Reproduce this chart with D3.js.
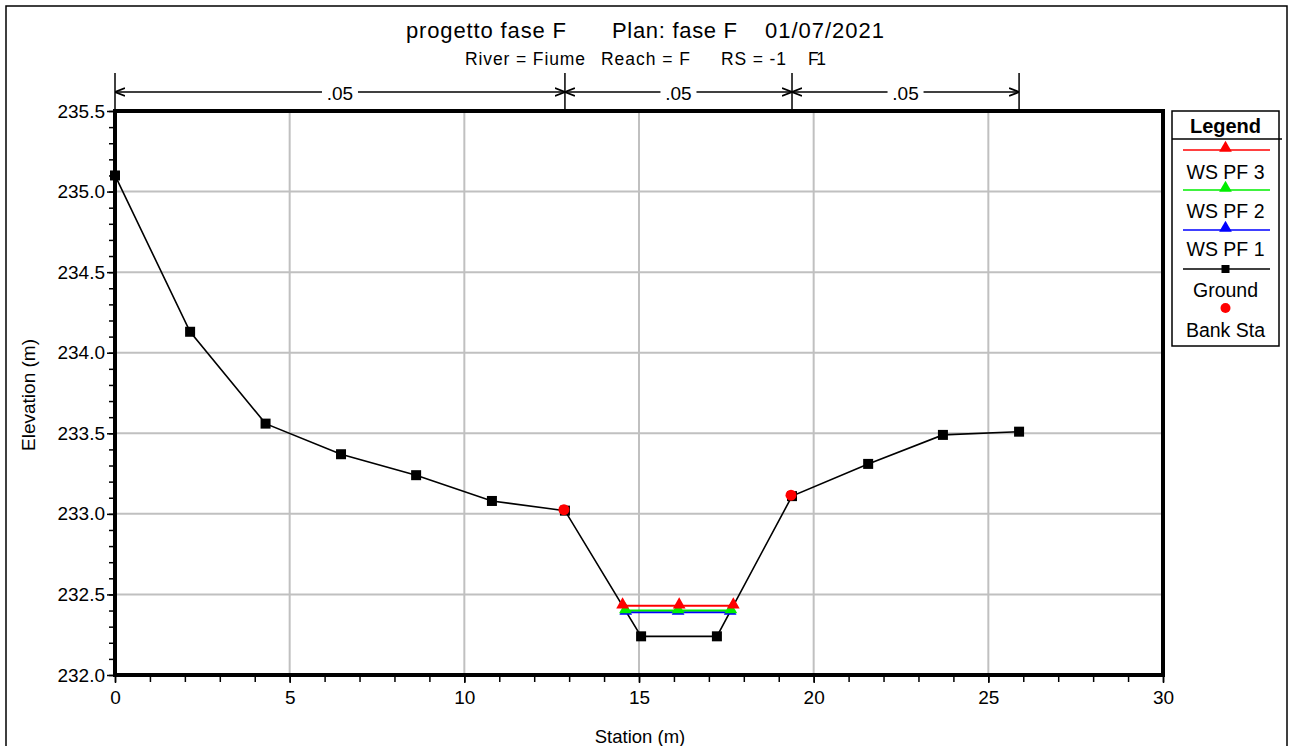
<!DOCTYPE html>
<html><head><meta charset="utf-8">
<script src="https://cdn.jsdelivr.net/npm/d3@7"></script>
<style>
body{margin:0;background:#fff;}
svg text{font-family:"Liberation Sans",Arial,sans-serif;fill:#000;}
</style></head>
<body>
<svg id="c" width="1293" height="746"></svg>
<script>
// ---- data ----
const titleParts = ["progetto fase F", "Plan: fase F", "01/07/2021"];
const subtitleParts = ["River = Fiume", "Reach = F", "RS = -1", "F1"];
const groundSta  = [0, 2.15, 4.31, 6.47, 8.62, 10.79, 12.88, 15.06, 17.23, 19.38, 21.56, 23.70, 25.88];
const groundElev = [235.10, 234.13, 233.56, 233.37, 233.24, 233.08, 233.02, 232.24, 232.24, 233.11, 233.31, 233.49, 233.51];
const bankSta  = [12.88, 19.38];
const bankElev = [233.02, 233.11];
const wsPF3Sta = [14.53, 16.15, 17.70];
const wsPF3Elev = [232.43, 232.43, 232.43];
const wsPF2Sta = [14.61, 16.12, 17.63];
const wsPF2Elev = [232.40, 232.40, 232.40];
const wsPF1Sta = [14.62, 16.12, 17.61];
const wsPF1Elev = [232.39, 232.39, 232.39];
const nBounds = [0, 12.88, 19.38, 25.88];
const nValues = [".05", ".05", ".05"];
const xMajorTicks = [0, 5, 10, 15, 20, 25, 30];
const yMajorTicks = [232.0, 232.5, 233.0, 233.5, 234.0, 234.5, 235.0, 235.5];
const legendLabels = ["WS PF 3", "WS PF 2", "WS PF 1", "Ground", "Bank Sta"];

// ---- layout ----
const svg = d3.select("#c");
const L = 115, R = 1163, T = 111, B = 675;
const x = d3.scaleLinear().domain([0, 30]).range([L, R]);
const y = d3.scaleLinear().domain([232, 235.5]).range([B, T]);

// outer border
svg.append("rect").attr("x", 6).attr("y", 6).attr("width", 1281).attr("height", 760)
  .attr("fill", "none").attr("stroke", "#000").attr("stroke-width", 1.5);

// titles
const titleX = [406, 612, 765];
const titleW = [160, 125, 119];
svg.selectAll(".tt").data(titleParts).join("text")
  .attr("x", (d, i) => titleX[i]).attr("y", 38)
  .attr("textLength", (d, i) => titleW[i]).attr("lengthAdjust", "spacing")
  .style("font-size", "22px").text(d => d);
const subX = [465, 601, 721, 808];
const subW = [120, 89, 65, 18];
svg.selectAll(".st").data(subtitleParts).join("text")
  .attr("x", (d, i) => subX[i]).attr("y", 65)
  .attr("textLength", (d, i) => subW[i]).attr("lengthAdjust", "spacing")
  .style("font-size", "17.5px").text(d => d);

// grid
const g = svg.append("g");
g.selectAll(".gx").data(xMajorTicks.slice(1, -1)).join("line")
  .attr("x1", d => x(d)).attr("x2", d => x(d)).attr("y1", T).attr("y2", B)
  .attr("stroke", "#c0c0c0").attr("stroke-width", 2);
g.selectAll(".gy").data(yMajorTicks.slice(1, -1)).join("line")
  .attr("y1", d => y(d)).attr("y2", d => y(d)).attr("x1", L).attr("x2", R)
  .attr("stroke", "#c0c0c0").attr("stroke-width", 2);

// axes
const xMinor = d3.range(0, 31, 1);
const yMinor = d3.range(0, 36, 1).map(i => 232 + i * 0.1);
const xAxis = d3.axisBottom(x).tickValues(xMajorTicks).tickSize(7).tickPadding(8).tickFormat(d3.format("d"));
const xAxisMinor = d3.axisBottom(x).tickValues(xMinor).tickSize(6).tickFormat("");
const yAxis = d3.axisLeft(y).tickValues(yMajorTicks).tickSize(7).tickPadding(2).tickFormat(d3.format(".1f"));
const yAxisMinor = d3.axisLeft(y).tickValues(yMinor).tickSize(5).tickFormat("");

function styleAxis(sel) {
  sel.select(".domain").remove();
  sel.selectAll("line").attr("stroke", "#000").attr("stroke-width", 1.5);
  sel.selectAll("text").style("font-size", "19px").style("font-family", "Liberation Sans, Arial, sans-serif");
}
svg.append("g").attr("transform", `translate(0,${B + 1})`).call(xAxisMinor).call(styleAxis);
svg.append("g").attr("transform", `translate(0,${B + 1})`).call(xAxis).call(styleAxis);
svg.append("g").attr("transform", `translate(${L - 1},0)`).call(yAxisMinor).call(styleAxis);
svg.append("g").attr("transform", `translate(${L - 1},0)`).call(yAxis).call(styleAxis);

// axis titles
svg.append("text").attr("x", 640).attr("y", 743).attr("text-anchor", "middle")
  .style("font-size", "18.5px").text("Station (m)");
svg.append("text").attr("transform", "translate(35,395) rotate(-90)").attr("text-anchor", "middle")
  .style("font-size", "19px").text("Elevation (m)");

// Manning's n bar
const nY = 92;
const defs = svg.append("defs");
defs.append("marker").attr("id", "arr").attr("viewBox", "0 0 10 10").attr("refX", 10).attr("refY", 5)
  .attr("markerWidth", 10).attr("markerHeight", 10).attr("markerUnits", "userSpaceOnUse").attr("orient", "auto-start-reverse")
  .append("path").attr("d", "M0,1 L10,5 L0,9").attr("fill", "none").attr("stroke", "#000").attr("stroke-width", 1.8);
svg.selectAll(".nv").data(nBounds).join("line")
  .attr("x1", d => x(d)).attr("x2", d => x(d)).attr("y1", 73).attr("y2", T)
  .attr("stroke", "#000").attr("stroke-width", 1.5);
const segs = nValues.map((v, i) => ({ a: nBounds[i], b: nBounds[i + 1], v }));
svg.selectAll(".ns").data(segs).join("line")
  .attr("x1", d => x(d.a)).attr("x2", d => x(d.b)).attr("y1", nY).attr("y2", nY)
  .attr("stroke", "#000").attr("stroke-width", 1.3)
  .attr("marker-start", "url(#arr)").attr("marker-end", "url(#arr)");
const nl = svg.selectAll(".nl").data(segs).join("g");
nl.append("rect").attr("x", d => x((d.a + d.b) / 2) - 18).attr("y", nY - 9).attr("width", 36).attr("height", 18).attr("fill", "#fff");
nl.append("text").attr("x", d => x((d.a + d.b) / 2)).attr("y", nY + 8).attr("text-anchor", "middle")
  .style("font-size", "19px").text(d => d.v);

// ground line
const ground = groundSta.map((s, i) => [s, groundElev[i]]);
const line = d3.line().x(d => x(d[0])).y(d => y(d[1]));
svg.append("path").attr("d", line(ground)).attr("fill", "none").attr("stroke", "#000").attr("stroke-width", 1.6);

// water surfaces
const ws = [
  { sta: wsPF1Sta, elev: wsPF1Elev, color: "#0000ff" },
  { sta: wsPF2Sta, elev: wsPF2Elev, color: "#00ee00" },
  { sta: wsPF3Sta, elev: wsPF3Elev, color: "#ff0000" }
];
const tri = d3.symbol().type(d3.symbolTriangle).size(70);
ws.forEach(w => {
  const pts = w.sta.map((s, i) => [s, w.elev[i]]);
  svg.append("path").attr("d", line(pts)).attr("fill", "none").attr("stroke", w.color).attr("stroke-width", 2);
  svg.selectAll(null).data(pts).join("path")
    .attr("transform", d => `translate(${x(d[0])},${y(d[1]) - 1})`).attr("d", tri).attr("fill", w.color);
});

// ground markers
svg.selectAll(".gm").data(ground).join("rect")
  .attr("x", d => x(d[0]) - 5).attr("y", d => y(d[1]) - 5).attr("width", 10).attr("height", 10).attr("fill", "#000");

// bank stations
svg.selectAll(".bk").data(bankSta.map((s, i) => [s, bankElev[i]])).join("circle")
  .attr("cx", d => x(d[0]) - 1).attr("cy", d => y(d[1]) - 1).attr("r", 5.5).attr("fill", "#ff0000");

// plot frame
svg.append("rect").attr("x", L).attr("y", T).attr("width", R - L).attr("height", B - T)
  .attr("fill", "none").attr("stroke", "#000").attr("stroke-width", 4);

// legend
const lg = svg.append("g");
const LX = 1172, LW = 107, LT = 111, LB = 346;
lg.append("rect").attr("x", LX).attr("y", LT).attr("width", LW).attr("height", LB - LT)
  .attr("fill", "#fff").attr("stroke", "#000").attr("stroke-width", 1.5);
lg.append("text").attr("x", LX + LW / 2).attr("y", 133).attr("text-anchor", "middle")
  .style("font-size", "20px").style("font-weight", "bold").text("Legend");
lg.append("line").attr("x1", LX).attr("x2", 1282).attr("y1", 139).attr("y2", 139).attr("stroke", "#000").attr("stroke-width", 1.5);
const legItems = [
  { label: legendLabels[0], color: "#ff0000", mark: "tri", ly: 150, ty: 179 },
  { label: legendLabels[1], color: "#00ee00", mark: "tri", ly: 190, ty: 218 },
  { label: legendLabels[2], color: "#0000ff", mark: "tri", ly: 230, ty: 256 },
  { label: legendLabels[3], color: "#000000", mark: "sq", ly: 269, ty: 297 },
  { label: legendLabels[4], color: "#ff0000", mark: "dot", ly: 308, ty: 337 }
];
const cx = LX + LW / 2;
legItems.forEach(it => {
  if (it.mark !== "dot") {
    lg.append("line").attr("x1", 1183).attr("x2", 1270).attr("y1", it.ly).attr("y2", it.ly)
      .attr("stroke", it.color).attr("stroke-width", 1.6);
  }
  if (it.mark === "tri") {
    lg.append("path").attr("transform", `translate(${cx},${it.ly - 2})`).attr("d", tri).attr("fill", it.color);
  } else if (it.mark === "sq") {
    lg.append("rect").attr("x", cx - 4).attr("y", it.ly - 4).attr("width", 8).attr("height", 8).attr("fill", "#000");
  } else {
    lg.append("circle").attr("cx", cx).attr("cy", it.ly).attr("r", 5).attr("fill", it.color);
  }
  lg.append("text").attr("x", cx).attr("y", it.ty).attr("text-anchor", "middle").style("font-size", "19.5px").text(it.label);
});
</script>
</body></html>
